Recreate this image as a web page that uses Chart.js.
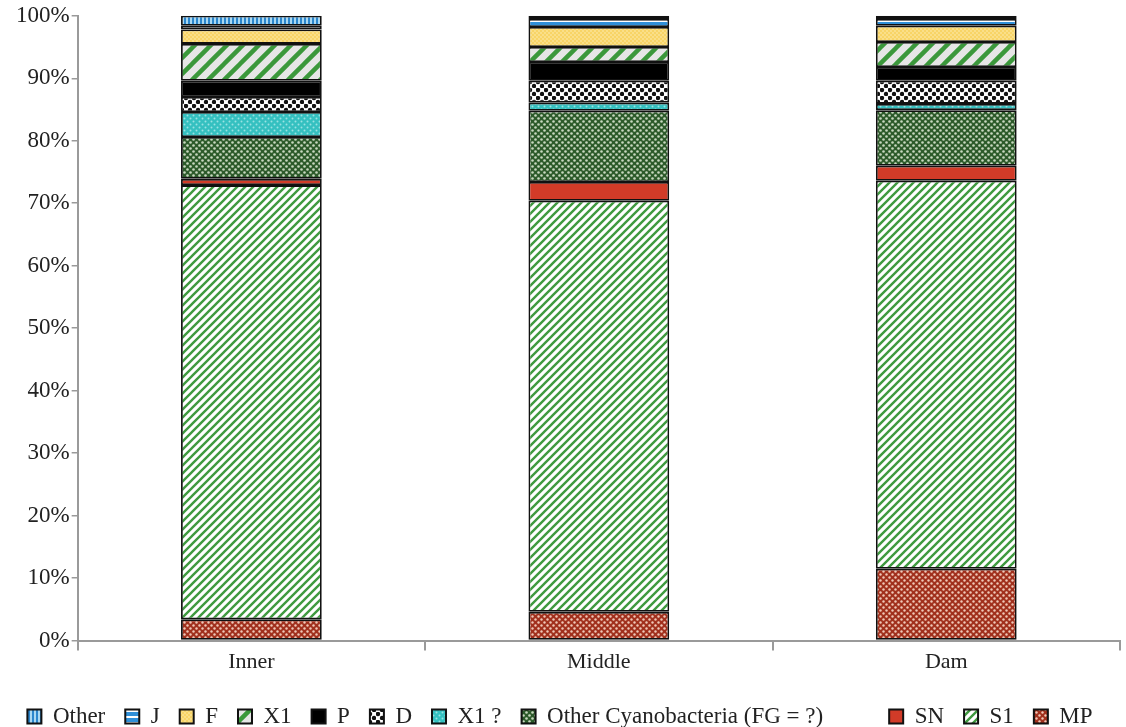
<!DOCTYPE html>
<html>
<head>
<meta charset="utf-8">
<script src="https://cdn.jsdelivr.net/npm/chart.js@4.4.1/dist/chart.umd.min.js"></script>
<style>
  html, body { margin: 0; padding: 0; background: #fff; }
  #wrap { width: 1126px; height: 727px; }
</style>
</head>
<body>
<div id="wrap"><canvas id="c" width="1126" height="727"></canvas></div>
<script>
// 数据（百分比，自下而上堆叠）
const sites = ['Inner', 'Middle', 'Dam'];
const yTicks = [0, 10, 20, 30, 40, 50, 60, 70, 80, 90, 100];

const mp = [3.4, 4.6, 11.5];
const s1 = [69.5, 65.8, 62.1];
const sn = [1.0, 3.0, 2.4];
const otherCyano = [6.7, 11.4, 8.9];
const x1q = [4.0, 1.3, 1.0];
const d = [2.4, 3.5, 3.7];
const p = [2.6, 3.0, 2.2];
const x1 = [5.9, 2.4, 4.0];
const f = [2.3, 3.2, 2.6];
const j = [0.6, 1.3, 1.1];
const other = [1.6, 0.5, 0.5];

// 填充图案
function makePattern(w, h, bg, draw) {
  const cv = document.createElement('canvas');
  cv.width = w;
  cv.height = h;
  const g = cv.getContext('2d');
  g.fillStyle = bg;
  g.fillRect(0, 0, w, h);
  draw(g, w, h);
  return document.getElementById('c').getContext('2d').createPattern(cv, 'repeat');
}

function diag(color, lw) {
  return (g, s) => {
    g.strokeStyle = color;
    g.lineWidth = lw;
    g.lineCap = 'square';
    g.beginPath();
    g.moveTo(-1, 1); g.lineTo(1, -1);
    g.moveTo(0, s); g.lineTo(s, 0);
    g.moveTo(s - 1, s + 1); g.lineTo(s + 1, s - 1);
    g.stroke();
  };
}

function dots(color, r, off) {
  return (g, w, h) => {
    g.fillStyle = color;
    const pts = off ? [[w / 4, h / 4], [3 * w / 4, 3 * h / 4]] : [[w / 2, h / 2]];
    pts.forEach(([x, y]) => {
      g.beginPath();
      g.arc(x, y, r, 0, Math.PI * 2);
      g.fill();
    });
  };
}

const fills = {
  other: makePattern(4, 4, '#a9d8f2', (g) => { g.fillStyle = '#2b86cc'; g.fillRect(0, 0, 2, 4); }),
  j: makePattern(4, 6, '#2f8fd8', (g) => { g.fillStyle = '#ffffff'; g.fillRect(0, 2, 4, 2); }),
  f: makePattern(4, 4, '#f8d466', dots('#fbe49a', 0.9, true)),
  x1: makePattern(16, 16, '#e6e6e6', diag('#3b983b', 4.5)),
  p: '#000000',
  d: makePattern(8, 8, '#ffffff', dots('#111111', 2.2, true)),
  x1q: makePattern(6, 6, '#35c0c0', dots('#9ae2e2', 1.0, true)),
  otherCyano: makePattern(6, 6, '#2c5a2a', dots('#c8d8c0', 1.3, true)),
  sn: '#d23b28',
  s1: makePattern(8, 8, '#ffffff', diag('#3f9a3f', 2.4)),
  mp: makePattern(6, 6, '#a1301d', dots('#f0c8b8', 1.2, true))
};

const series = [
  { label: 'MP', data: mp, fill: fills.mp },
  { label: 'S1', data: s1, fill: fills.s1 },
  { label: 'SN', data: sn, fill: fills.sn },
  { label: 'Other Cyanobacteria (FG = ?)', data: otherCyano, fill: fills.otherCyano },
  { label: 'X1 ?', data: x1q, fill: fills.x1q },
  { label: 'D', data: d, fill: fills.d },
  { label: 'P', data: p, fill: fills.p },
  { label: 'X1', data: x1, fill: fills.x1 },
  { label: 'F', data: f, fill: fills.f },
  { label: 'J', data: j, fill: fills.j },
  { label: 'Other', data: other, fill: fills.other }
];

Chart.defaults.font.family = "'Liberation Serif', 'Times New Roman', serif";
Chart.defaults.color = '#222';

const axisGray = '#9a9a9a';

new Chart(document.getElementById('c').getContext('2d'), {
  type: 'bar',
  data: {
    labels: sites,
    datasets: series.map(s => ({
      label: s.label,
      data: s.data,
      backgroundColor: s.fill,
      borderColor: '#111',
      borderWidth: 1.8,
      borderSkipped: false,
      barPercentage: 0.81,
      categoryPercentage: 0.5
    }))
  },
  options: {
    responsive: false,
    animation: false,
    layout: { padding: { top: 6, right: 6, left: 0, bottom: -11 } },
    scales: {
      x: {
        stacked: true,
        afterFit: (axis) => { axis.height += 12; },
        grid: { drawOnChartArea: false, offset: true, tickLength: 10, color: axisGray, lineWidth: 2 },
        border: { color: axisGray, width: 2 },
        ticks: { font: { size: 22 }, color: '#222', padding: -2 }
      },
      y: {
        stacked: true,
        min: 0,
        max: 100,
        afterFit: (axis) => { axis.width += 14; },
        afterBuildTicks: (axis) => { axis.ticks = yTicks.map(v => ({ value: v })); },
        grid: { drawOnChartArea: false, tickLength: 6, color: axisGray, lineWidth: 1.5 },
        border: { color: axisGray, width: 2 },
        ticks: { font: { size: 23 }, color: '#222', padding: 2, callback: v => v + '%' }
      }
    },
    plugins: {
      tooltip: { enabled: false },
      legend: {
        position: 'bottom',
        reverse: true,
        labels: {
          font: { size: 23 },
          color: '#222',
          boxWidth: 14,
          boxHeight: 14,
          padding: 20,
          generateLabels: (chart) => {
            const items = Chart.defaults.plugins.legend.labels.generateLabels(chart);
            items.forEach(it => {
              it.lineWidth = 2;
              it.strokeStyle = '#111';
              if (it.text.startsWith('Other Cyano')) it.text = it.text + '        ';
            });
            return items;
          }
        }
      }
    }
  }
});
</script>
</body>
</html>
